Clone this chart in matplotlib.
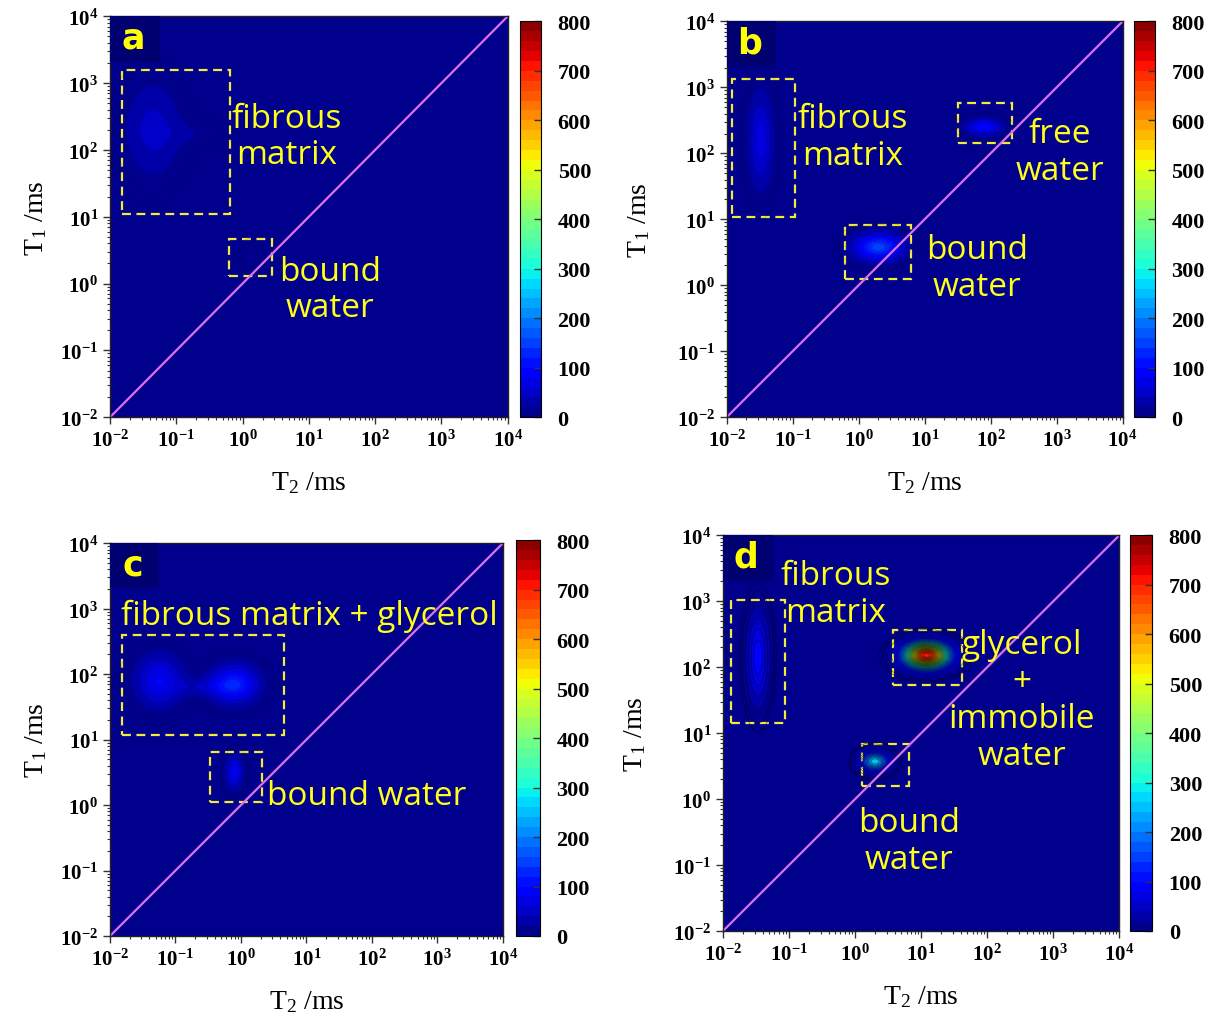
import numpy as np
import matplotlib
matplotlib.use("Agg")
import matplotlib.pyplot as plt
from matplotlib.patches import Rectangle

plt.rcParams['mathtext.fontset'] = 'custom'
plt.rcParams['mathtext.rm'] = 'Liberation Serif'
plt.rcParams['mathtext.bf'] = 'Liberation Serif:bold'
plt.rcParams['mathtext.it'] = 'Liberation Serif:italic'

######################################################################
# data (log10 T2, log10 T1)
# peaks: (log T2 centre, log T1 centre, sigma T2, sigma T1, amplitude)
peaks_a = [(-1.35, 2.30, 0.30, 0.50, 48), (-0.70, 2.25, 0.38, 0.13, 15),
           (0.10, 0.40, 0.10, 0.15, 20)]
peaks_b = [(-1.48, 2.20, 0.13, 0.50, 70), (0.30, 0.58, 0.25, 0.14, 150),
           (1.90, 2.40, 0.18, 0.09, 100)]
peaks_c = [(-1.25, 1.90, 0.25, 0.28, 80), (-0.10, 1.85, 0.25, 0.20, 120),
           (-0.55, 1.80, 0.35, 0.10, 30), (-0.10, 0.50, 0.09, 0.17, 85)]
peaks_d = [(-1.47, 2.15, 0.11, 0.45, 95), (1.08, 2.18, 0.22, 0.13, 720),
           (0.30, 0.57, 0.14, 0.10, 260)]

# dashed boxes: (T2 min, T2 max, T1 min, T1 max) in log10
boxes_a = [(-1.82, -0.19, 1.04, 3.19), (-0.20, 0.44, 0.12, 0.66)]
boxes_b = [(-1.92, -0.97, 1.03, 3.12), (-0.21, 0.80, 0.09, 0.92), (1.50, 2.33, 2.15, 2.76)]
boxes_c = [(-1.82, 0.66, 1.07, 2.60), (-0.47, 0.32, 0.05, 0.81)]
boxes_d = [(-1.88, -1.06, 1.15, 3.02), (0.58, 1.61, 1.73, 2.56), (0.10, 0.81, 0.20, 0.83)]

# labels: (text, log T2, log T1)
labels_a = [("fibrous\nmatrix", 0.67, 2.20), ("bound\nwater", 1.32, -0.09)]
labels_b = [("fibrous\nmatrix", -0.09, 2.25), ("free\nwater", 3.05, 2.02), ("bound\nwater", 1.80, 0.26)]
labels_c = [("fibrous matrix + glycerol", 1.05, 2.90), ("bound water", 1.92, 0.14)]
labels_d = [("fibrous\nmatrix", -0.29, 3.11), ("glycerol\n+\nimmobile\nwater", 2.52, 1.50),
            ("bound\nwater", 0.82, -0.64)]

panel_names = ['a', 'b', 'c', 'd']
cbar_ticks = [0, 100, 200, 300, 400, 500, 600, 700, 800]
decades = [-2, -1, 0, 1, 2, 3, 4]

# axes rectangles in figure fraction
ax_rects = [[0.0913, 0.590, 0.330, 0.393], [0.603, 0.590, 0.3286, 0.388],
            [0.0913, 0.0814, 0.326, 0.385], [0.600, 0.0863, 0.329, 0.388]]
cb_rects = [[0.4315, 0.590, 0.0174, 0.388], [0.941, 0.590, 0.0174, 0.388],
            [0.428, 0.0814, 0.020, 0.388], [0.938, 0.0863, 0.018, 0.388]]
ylabel_pads = [8, 18, 8, 18]

fig = plt.figure(figsize=(12.05, 10.2), dpi=100)

lx = np.linspace(-2, 4, 400)
LX, LY = np.meshgrid(lx, lx)
levels = np.linspace(0, 800, 41)


def make_map(peaks):
    Z = np.zeros_like(LX)
    for cx, cy, sx, sy, amp in peaks:
        Z += amp * np.exp(-0.5 * (((LX - cx) / sx) ** 2 + ((LY - cy) / sy) ** 2))
    return np.clip(Z, 0, 799)


allpeaks = [peaks_a, peaks_b, peaks_c, peaks_d]
allboxes = [boxes_a, boxes_b, boxes_c, boxes_d]
alllabels = [labels_a, labels_b, labels_c, labels_d]

for i in range(4):
    ax = fig.add_axes(ax_rects[i])
    Z = make_map(allpeaks[i])
    cf = ax.contourf(10 ** LX, 10 ** LY, Z, levels=levels, cmap='jet')
    # thin contour lines around the peaks
    lv = [l for l in levels if 5 < l < Z.max()]
    if len(lv) > 0:
        ax.contour(10 ** LX, 10 ** LY, Z, levels=[4, 8] + lv, colors='k',
                   linewidths=0.5 if i == 3 else 0.4, alpha=0.6 if i == 3 else 0.25)
    ax.plot([1e-2, 1e4], [1e-2, 1e4], color='#e070ec', lw=1.6)
    for x0, x1, y0, y1 in allboxes[i]:
        ax.add_patch(Rectangle((10 ** x0, 10 ** y0), 10 ** x1 - 10 ** x0, 10 ** y1 - 10 ** y0,
                               fill=False, ec='#f2ea3c', lw=1.6, ls=(0, (4, 2.5))))
    for txt, x, y in alllabels[i]:
        ax.text(10 ** x, 10 ** y, txt, color='#ffff1a', fontsize=24, family='Open Sans',
                ha='center', va='center', linespacing=1.15)
    # panel letter on a slightly darker patch
    ax.add_patch(Rectangle((0.0, 0.885), 0.125, 0.115, transform=ax.transAxes,
                           fc='#000070', ec='none', zorder=3))
    ax.text(0.058, 0.947, panel_names[i], transform=ax.transAxes, color='#ffff00',
            fontsize=25, fontweight='bold', family='DejaVu Sans', ha='center', va='center', zorder=4)
    ax.set_xscale('log')
    ax.set_yscale('log')
    ax.set_xlim(1e-2, 1e4)
    ax.set_ylim(1e-2, 1e4)
    ax.set_xticks([10.0 ** d for d in decades])
    ax.set_yticks([10.0 ** d for d in decades])
    ax.set_xticklabels([r'$\mathbf{10^{%d}}$' % d for d in decades])
    ax.set_yticklabels([r'$\mathbf{10^{%d}}$' % d for d in decades])
    ax.tick_params(which='both', direction='out', labelsize=15, color='#333333')
    ax.tick_params(which='major', length=5, width=1)
    ax.tick_params(which='minor', length=2.5, width=0.8)
    ax.set_xlabel(r'T$_2$ /ms', fontsize=20, family='Liberation Serif', labelpad=14)
    ax.set_ylabel(r'T$_1$ /ms', fontsize=20, family='Liberation Serif', labelpad=ylabel_pads[i])
    for sp in ax.spines.values():
        sp.set_linewidth(1.0)
        sp.set_color('#222222')

    cax = fig.add_axes(cb_rects[i])
    cb = fig.colorbar(cf, cax=cax, ticks=cbar_ticks)
    cb.ax.set_ylim(0, 800)
    cb.ax.tick_params(direction='in', length=5, width=1, color='#333333', labelsize=16, pad=12)
    for lab in cb.ax.get_yticklabels():
        lab.set_family('Liberation Serif')
        lab.set_fontweight('bold')
    cb.outline.set_linewidth(0.8)

fig.savefig('out.png', dpi=100)
